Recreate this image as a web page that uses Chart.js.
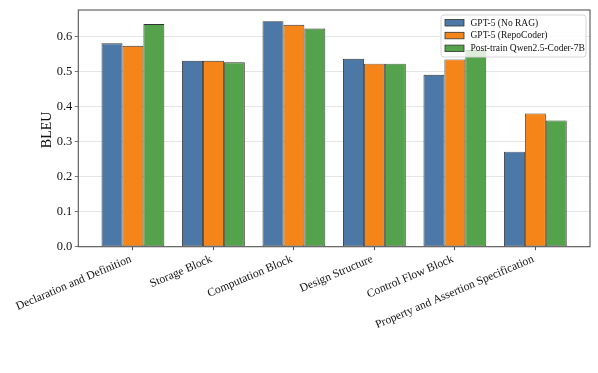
<!DOCTYPE html>
<html>
<head>
<meta charset="utf-8">
<script src="https://cdn.jsdelivr.net/npm/chart.js@4.4.1/dist/chart.umd.min.js"></script>
<style>
  html, body { margin: 0; padding: 0; background: #fff; }
  #grafico { display: block; }
</style>
</head>
<body>
<canvas id="grafico" width="598" height="373"></canvas>
<script>
// Datos
const categorias = [
    'Declaration and Definition',
    'Storage Block',
    'Computation Block',
    'Design Structure',
    'Control Flow Block',
    'Property and Assertion Specification'
];
const series = ['GPT-5 (No RAG)', 'GPT-5 (RepoCoder)', 'Post-train Qwen2.5-Coder-7B'];
const gpt5NoRag = [0.580, 0.530, 0.643, 0.536, 0.490, 0.271];
const gpt5RepoCoder = [0.573, 0.530, 0.633, 0.522, 0.534, 0.380];
const qwenPostTrain = [0.635, 0.526, 0.622, 0.522, 0.561, 0.360];
const ticksY = [0, 0.1, 0.2, 0.3, 0.4, 0.5, 0.6];
const tituloY = 'BLEU';

const colores = ['#4C78A8', '#F58518', '#54A24B'];
const valores = [gpt5NoRag, gpt5RepoCoder, qwenPostTrain];
const fuente = "'Liberation Serif', 'DejaVu Serif', serif";

// Marco completo, título del eje Y y leyenda dentro del área
const marcoYLeyenda = {
    id: 'marcoYLeyenda',
    afterDatasetsDraw(chart) {
        const { ctx, chartArea: a } = chart;
        ctx.save();
        // leyenda
        const w = 145, h = 42;
        const x = a.right - 4 - w, y = a.top + 5;
        ctx.beginPath();
        ctx.roundRect(x, y, w, h, 3);
        ctx.fillStyle = 'rgba(255,255,255,0.8)';
        ctx.fill();
        ctx.strokeStyle = '#d6d6d6';
        ctx.lineWidth = 1;
        ctx.stroke();
        ctx.font = '9.5px ' + fuente;
        ctx.textBaseline = 'middle';
        series.forEach((s, i) => {
            const cy = y + 7.5 + i * 12.8;
            ctx.fillStyle = colores[i];
            ctx.fillRect(x + 4, cy - 3, 19, 6.5);
            ctx.strokeStyle = '#333';
            ctx.lineWidth = 0.8;
            ctx.strokeRect(x + 4, cy - 3, 19, 6.5);
            ctx.fillStyle = '#111';
            ctx.fillText(s, x + 29.5, cy + 0.5);
        });
        // marco
        ctx.strokeStyle = '#555';
        ctx.lineWidth = 1.1;
        ctx.strokeRect(a.left, a.top, a.right - a.left, a.bottom - a.top);
        // título eje Y
        ctx.translate(a.left - 31, (a.top + a.bottom) / 2 + 1.5);
        ctx.rotate(-Math.PI / 2);
        ctx.font = '14px ' + fuente;
        ctx.fillStyle = '#111';
        ctx.textAlign = 'center';
        ctx.textBaseline = 'middle';
        ctx.fillText(tituloY, 0, 0);
        ctx.restore();
    }
};

new Chart(document.getElementById('grafico').getContext('2d'), {
    type: 'bar',
    data: {
        datasets: series.map((s, i) => ({
            label: s,
            data: valores[i].map((v, j) => ({ x: j, y: v })),
            backgroundColor: colores[i],
            borderColor: '#333',
            borderWidth: 0.9,
            borderSkipped: false,
            categoryPercentage: 0.78,
            barPercentage: 1.0
        }))
    },
    options: {
        responsive: false,
        animation: false,
        devicePixelRatio: 1,
        layout: { padding: { top: 7, right: 8, left: 0, bottom: 0 } },
        plugins: {
            legend: { display: false },
            tooltip: { enabled: false }
        },
        scales: {
            x: {
                type: 'linear',
                min: -0.679,
                max: 5.679,
                offset: false,
                afterBuildTicks: (scale) => {
                    scale.ticks = categorias.map((c, i) => ({ value: i }));
                },
                afterFit: (scale) => { scale.height = 126.3; },
                ticks: {
                    autoSkip: false,
                    minRotation: 23,
                    maxRotation: 23,
                    padding: 2,
                    labelOffset: -2,
                    color: '#111',
                    font: { family: fuente, size: 11.6 },
                    callback: (v) => categorias[v]
                },
                grid: {
                    offset: false,
                    drawOnChartArea: false,
                    drawTicks: true,
                    tickLength: 3.5,
                    tickColor: '#555'
                },
                border: { display: false }
            },
            y: {
                min: 0,
                max: 0.675,
                afterBuildTicks: (scale) => {
                    scale.ticks = ticksY.map(v => ({ value: v }));
                },
                afterFit: (scale) => { scale.width = 78.3; },
                ticks: {
                    padding: 2.5,
                    color: '#111',
                    font: { family: fuente, size: 12.5 },
                    callback: (v) => v.toFixed(1)
                },
                grid: {
                    color: 'rgba(0,0,0,0.13)',
                    lineWidth: 0.8,
                    borderDash: [3, 2],
                    drawTicks: true,
                    tickLength: 3.5,
                    tickColor: '#555',
                    tickBorderDash: []
                },
                border: { display: false }
            }
        }
    },
    plugins: [marcoYLeyenda]
});
</script>
</body>
</html>
